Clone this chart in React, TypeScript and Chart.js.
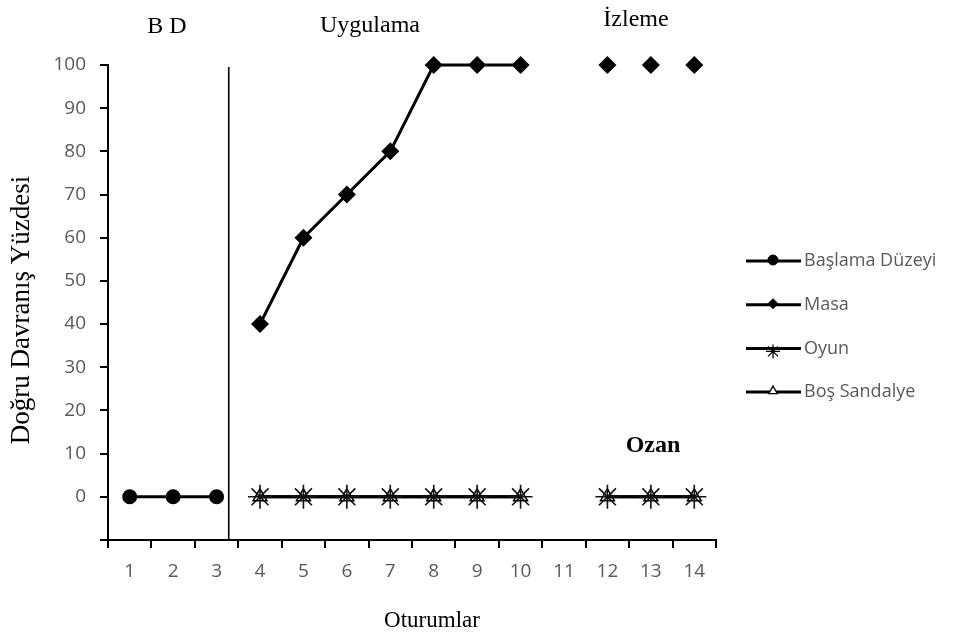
import React, { useEffect, useRef } from 'react';
import { Chart, registerables } from 'chart.js';
import { drawPoint } from 'chart.js/helpers';

Chart.register(...registerables);

const sessions = ['1', '2', '3', '4', '5', '6', '7', '8', '9', '10', '11', '12', '13', '14'];
const baselineValues = [0, 0, 0, null, null, null, null, null, null, null, null, null, null, null];
const masaValues = [null, null, null, 40, 60, 70, 80, 100, 100, 100, null, null, null, null];
const masaFollowUpValues = [null, null, null, null, null, null, null, null, null, null, null, 100, 100, 100];
const oyunValues = [null, null, null, 0, 0, 0, 0, 0, 0, 0, null, 0, 0, 0];
const bosSandalyeValues = [null, null, null, 0, 0, 0, 0, 0, 0, 0, null, 0, 0, 0];
const yMin = -10;
const yMax = 100;
const yStep = 10;
const phaseChangeSession = 3.28;

const legendItems = [
  { label: 'Başlama Düzeyi', style: 'circle', radius: 5 },
  { label: 'Masa', style: 'rectRot', radius: 5 },
  { label: 'Oyun', style: 'star', radius: 7 },
  { label: 'Boş Sandalye', style: 'triangle', radius: 5 },
];

const textLabels = [
  { text: 'B D', x: 167, y: 27, bold: false },
  { text: 'Uygulama', x: 370, y: 26, bold: false },
  { text: 'İzleme', x: 636, y: 20, bold: false },
  { text: 'Ozan', x: 653, y: 446, bold: true },
];

const overlayPlugin = {
  id: 'overlay',
  afterDraw(chart: any) {
    const { ctx, scales } = chart;
    const xs = scales.x;
    const ys = scales.y;
    ctx.save();
    const px = xs.getPixelForValue(phaseChangeSession - 1);
    ctx.strokeStyle = '#000';
    ctx.lineWidth = 1.6;
    ctx.beginPath();
    ctx.moveTo(px, ys.getPixelForValue(yMax) + 2);
    ctx.lineTo(px, ys.getPixelForValue(yMin));
    ctx.stroke();

    ctx.fillStyle = '#000';
    ctx.textAlign = 'center';
    ctx.textBaseline = 'middle';
    for (const t of textLabels) {
      ctx.font = (t.bold ? 'bold ' : '') + '24px "Liberation Serif", serif';
      ctx.fillText(t.text, t.x, t.y);
    }

    ctx.font = '23px "Liberation Serif", serif';
    ctx.fillText('Oturumlar', 432, 621);
    ctx.save();
    ctx.translate(22, 310);
    ctx.rotate(-Math.PI / 2);
    ctx.font = '27px "Liberation Serif", serif';
    ctx.fillText('Doğru Davranış Yüzdesi', 0, 0);
    ctx.restore();

    ctx.textAlign = 'left';
    ctx.font = '18px "Open Sans", sans-serif';
    legendItems.forEach((item, i) => {
      const y = 261 + i * 43.7;
      ctx.strokeStyle = '#000';
      ctx.lineWidth = 3;
      ctx.beginPath();
      ctx.moveTo(746, y);
      ctx.lineTo(801, y);
      ctx.stroke();
      ctx.fillStyle = item.style === 'triangle' ? '#fff' : '#000';
      ctx.strokeStyle = '#000';
      ctx.lineWidth = item.style === 'star' || item.style === 'triangle' ? 1.3 : 1;
      drawPoint(ctx, { pointStyle: item.style, radius: item.radius, borderWidth: ctx.lineWidth, rotation: 0 }, 773, item.style === 'star' ? y + 3 : y - 1);
      ctx.fillStyle = '#595959';
      ctx.fillText(item.label, 804, y);
    });
    ctx.restore();
  },
};

const commonLine = {
  borderColor: '#000',
  borderWidth: 3,
  pointBorderColor: '#000',
  pointBackgroundColor: '#000',
  spanGaps: false,
  clip: false,
};

export default function App() {
  const canvasRef = useRef<HTMLCanvasElement>(null);
  useEffect(() => {
    const canvas = canvasRef.current;
    if (!canvas) return;
    const chart = new Chart(canvas, {
      type: 'line',
      data: {
        labels: sessions,
        datasets: [
          { ...commonLine, label: 'Başlama Düzeyi', data: baselineValues, pointStyle: 'circle', pointRadius: 7.5, pointBorderWidth: 0 },
          { ...commonLine, label: 'Masa', data: masaValues, pointStyle: 'rectRot', pointRadius: 9, pointBorderWidth: 0 },
          { ...commonLine, label: 'Masa İzleme', data: masaFollowUpValues, showLine: false, pointStyle: 'rectRot', pointRadius: 9, pointBorderWidth: 0 },
          { ...commonLine, label: 'Oyun', data: oyunValues, pointStyle: 'star', pointRadius: 12, pointBorderWidth: 1.6, pointBorderColor: '#111' },
          { ...commonLine, label: 'Boş Sandalye', data: bosSandalyeValues, pointStyle: 'triangle', pointRadius: 8, pointBorderWidth: 1.5, pointBackgroundColor: 'rgba(0,0,0,0)' },
        ],
      } as any,
      options: {
        responsive: false,
        animation: false,
        layout: { padding: { left: 0, top: 65, right: 243, bottom: 0 } },
        plugins: { legend: { display: false }, tooltip: { enabled: false }, title: { display: false } },
        scales: {
          x: {
            type: 'category',
            offset: true,
            grid: { offset: true, drawOnChartArea: false, drawTicks: true, tickLength: 8, color: '#000', lineWidth: 2 },
            border: { display: true, color: '#000', width: 2 },
            ticks: { color: '#595959', font: { family: '"Open Sans", sans-serif', size: 19 }, padding: 12, maxRotation: 0, autoSkip: false },
            afterFit(scale: any) { scale.height = 102; },
          },
          y: {
            min: yMin,
            max: yMax,
            grid: { drawOnChartArea: false, drawTicks: true, tickLength: 8, color: '#000', lineWidth: 2 },
            border: { display: true, color: '#000', width: 2 },
            ticks: {
              stepSize: yStep,
              color: '#595959',
              font: { family: '"Open Sans", sans-serif', size: 19 },
              padding: 14,
              callback: (v: any) => (v === yMin ? '' : String(v)),
            },
            afterFit(scale: any) { scale.width = 108; },
          },
        },
      } as any,
      plugins: [overlayPlugin],
    });
    return () => chart.destroy();
  }, []);
  return (
    <div style={{ position: 'absolute', left: 0, top: 0, width: 959, height: 642, background: '#fff' }}>
      <canvas ref={canvasRef} width={959} height={642} />
    </div>
  );
}
